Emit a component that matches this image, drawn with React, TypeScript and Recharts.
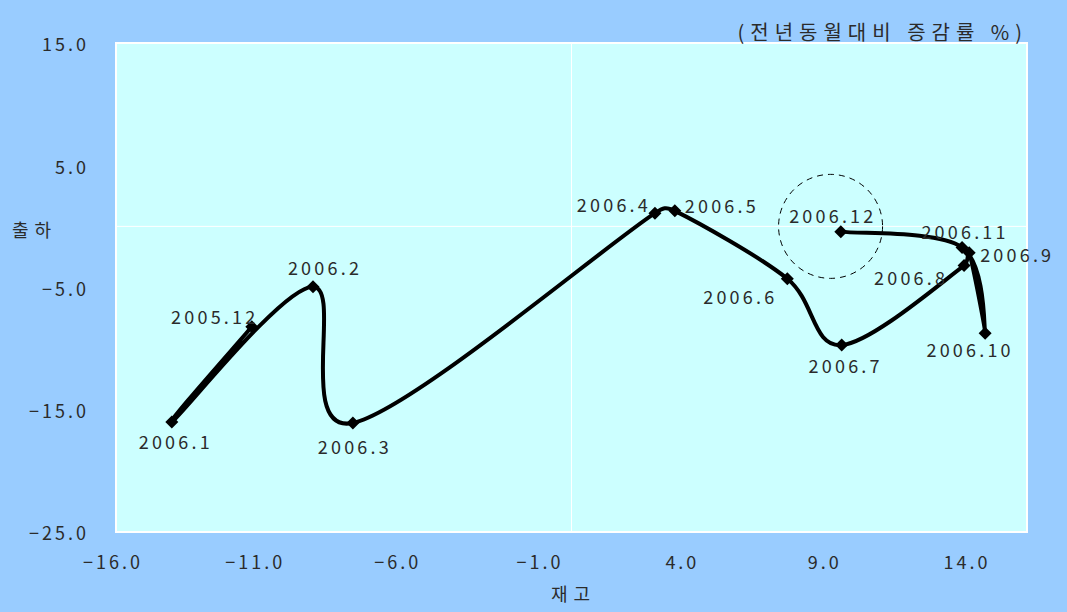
import {
  LineChart,
  Line,
  XAxis,
  YAxis,
  ReferenceArea,
  ReferenceLine,
  ReferenceDot,
  LabelList,
} from "recharts";

// 월별 재고(x) / 출하(y) 전년동월대비 증감률
const months = [
  "2005.12", "2006.1", "2006.2", "2006.3", "2006.4", "2006.5",
  "2006.6", "2006.7", "2006.8", "2006.9", "2006.10", "2006.11", "2006.12",
];
const inventory = [
  -11.23, -14.04, -9.08, -7.68, 2.93, 3.63, 7.58, 9.49, 13.79, 13.97, 14.53, 13.72, 9.46,
];
const shipment = [
  -8.21, -16.0, -4.93, -16.08, 1.08, 1.27, -4.28, -9.71, -3.21, -2.15, -8.75, -1.72, -0.43,
];
const xTicks = [-16, -11, -6, -1, 4, 9, 14];
const yTicks = [-25, -15, -5, 5, 15];

const rows = months.map((name, i) => ({ name, x: inventory[i], y: shipment[i] }));

// where each month label sits relative to its marker
const labelOffset: Record<string, [number, number]> = {
  "2005.12": [-37, -11],
  "2006.1": [4, 19],
  "2006.2": [12, -20],
  "2006.3": [2, 23],
  "2006.4": [-41, -9],
  "2006.5": [47, -6],
  "2006.6": [-47, 17],
  "2006.7": [4, 20],
  "2006.8": [-53, 11],
  "2006.9": [48, 1],
  "2006.10": [-15, 16],
  "2006.11": [3, -16],
  "2006.12": [-8, -17],
};

const TEXT = "#2b2b2b";

// spreadsheet-style smoothing: bezier handles = (next - prev) / 6,
// but never longer than half of the segment they belong to
const smoothCurve = (context: any) => {
  let pts: number[][] = [];
  const dist = (a: number[], b: number[]) => Math.hypot(a[0] - b[0], a[1] - b[1]);
  const handle = (from: number[], to: number[], seg: number) => {
    let hx = (to[0] - from[0]) / 6;
    let hy = (to[1] - from[1]) / 6;
    const len = Math.hypot(hx, hy);
    if (len > seg / 2 && len > 0) {
      hx *= seg / 2 / len;
      hy *= seg / 2 / len;
    }
    return [hx, hy];
  };
  return {
    areaStart() {},
    areaEnd() {},
    lineStart() {
      pts = [];
    },
    point(x: number, y: number) {
      pts.push([+x, +y]);
    },
    lineEnd() {
      if (!pts.length) return;
      context.moveTo(pts[0][0], pts[0][1]);
      for (let i = 0; i < pts.length - 1; i++) {
        const p0 = pts[i - 1] || pts[i];
        const p1 = pts[i];
        const p2 = pts[i + 1];
        const p3 = pts[i + 2] || pts[i + 1];
        const seg = dist(p1, p2);
        const [ax, ay] = handle(p0, p2, seg);
        const [bx, by] = handle(p1, p3, seg);
        context.bezierCurveTo(p1[0] + ax, p1[1] + ay, p2[0] - bx, p2[1] - by, p2[0], p2[1]);
      }
    },
  };
};

const fmt = (v: number) => (v < 0 ? "\u2212" : "") + Math.abs(v).toFixed(1);

const Diamond = (props: any) => {
  const { cx, cy } = props;
  if (cx == null || cy == null) return null;
  const s = 6.5;
  return (
    <polygon
      points={`${cx},${cy - s} ${cx + s},${cy} ${cx},${cy + s} ${cx - s},${cy}`}
      fill="#000"
    />
  );
};

const MonthLabel = (props: any) => {
  const { x, y, value } = props;
  const [dx, dy] = labelOffset[value] || [0, -15];
  return (
    <text
      x={x + dx}
      y={y + dy}
      textAnchor="middle"
      dominantBaseline="central"
      fontSize={18}
      letterSpacing={3.2}
      fill={TEXT}
    >
      {value}
    </text>
  );
};

export default function App() {
  return (
    <>
      <style>{`body{margin:0}`}</style>
      <div
        style={{
          width: 1067,
          height: 612,
          background: "#99CCFF",
          position: "relative",
          fontFamily: "'Noto Sans CJK KR', 'Noto Sans', sans-serif",
        }}
      >
        <LineChart
          width={1067}
          height={612}
          data={rows}
          margin={{ top: 43, right: 40, bottom: 40, left: 16 }}
        >
          <XAxis
            type="number"
            dataKey="x"
            domain={[-16, 16]}
            ticks={xTicks}
            tickFormatter={fmt}
            axisLine={false}
            tickLine={false}
            tickSize={0}
            tickMargin={24}
            height={40}
            tick={{ fontSize: 18, fill: TEXT, letterSpacing: 3, dx: -3 }}
          />
          <YAxis
            type="number"
            dataKey="y"
            domain={[-25, 15]}
            ticks={yTicks}
            tickFormatter={fmt}
            axisLine={false}
            tickLine={false}
            tickSize={0}
            tickMargin={27}
            width={100}
            tick={{ fontSize: 18, fill: TEXT, letterSpacing: 3, dy: 2 }}
          />
          <ReferenceArea
            x1={-16}
            x2={16}
            y1={-25}
            y2={15}
            fill="#CCFFFF"
            fillOpacity={1}
            stroke="#ffffff"
            strokeWidth={2}
          />
          <ReferenceLine x={0} stroke="#ffffff" strokeWidth={1} />
          <ReferenceLine y={0} stroke="#ffffff" strokeWidth={1} />
          <ReferenceDot
            x={9.1}
            y={0}
            r={52}
            fill="none"
            stroke="#000"
            strokeWidth={1}
            strokeDasharray="6 5"
          />
          <Line
            dataKey="y"
            type={smoothCurve as any}
            stroke="#000"
            strokeWidth={4}
            dot={<Diamond />}
            activeDot={false}
            isAnimationActive={false}
          >
            <LabelList dataKey="name" content={<MonthLabel />} />
          </Line>
        </LineChart>
        <div
          style={{
            position: "absolute",
            right: 39,
            top: 19,
            fontSize: 20,
            letterSpacing: 6,
            color: TEXT,
            whiteSpace: "pre",
            lineHeight: "26px",
          }}
        >
          (전년동월대비 증감률 %)
        </div>
        <div
          style={{
            position: "absolute",
            left: 12,
            top: 216,
            fontSize: 18,
            letterSpacing: 6,
            color: TEXT,
            lineHeight: "26px",
          }}
        >
          출하
        </div>
        <div
          style={{
            position: "absolute",
            left: 551,
            top: 580,
            fontSize: 18,
            letterSpacing: 6,
            color: TEXT,
            lineHeight: "26px",
          }}
        >
          재고
        </div>
      </div>
    </>
  );
}
